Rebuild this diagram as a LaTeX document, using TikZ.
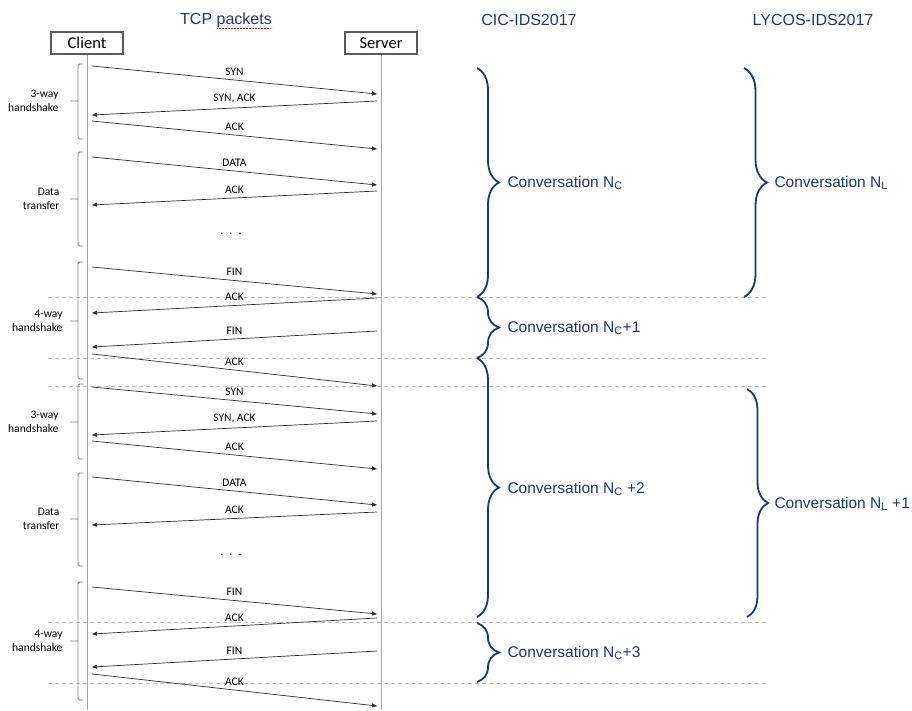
\documentclass[tikz,border=0pt]{standalone}
\usepackage{fontspec}
\setsansfont{Liberation Sans}
\newfontfamily\calibri{Carlito}
\usetikzlibrary{arrows.meta,decorations.pathreplacing}

\definecolor{navy}{RGB}{31,56,100}
\definecolor{linegray}{RGB}{166,166,166}
\definecolor{dashgray}{RGB}{191,191,191}
\definecolor{boxgray}{RGB}{89,89,89}
\definecolor{msggray}{RGB}{45,45,45}

\begin{document}
\begin{tikzpicture}[x=1pt, y=-1pt, font=\sffamily,
    host/.style={draw=boxgray, line width=1.1pt, minimum width=72pt, minimum height=22pt,
      inner sep=0pt, font=\calibri\fontsize{16.5}{18}\selectfont},
    life/.style={draw=linegray, line width=0.9pt},
    msg/.style={draw=msggray, line width=0.7pt, -{Triangle[length=5pt,width=4pt]}},
    lbl/.style={midway, above=1pt, font=\calibri\fontsize{11.5}{13}\selectfont},
    grp/.style={anchor=east, align=right, font=\calibri\fontsize{11.5}{13.5}\selectfont},
    bkt/.style={draw=gray, line width=0.8pt, rounded corners=1.5pt},
    sep/.style={draw=dashgray, line width=0.8pt, dash pattern=on 4pt off 3pt},
    conv/.style={draw=navy, line width=1.8pt, decorate, decoration={brace, amplitude=#1}},
    conv/.default=22pt,
    clab/.style={anchor=west, text=navy, font=\sffamily\fontsize{15.5}{18}\selectfont},
    head/.style={text=navy, font=\sffamily\fontsize{16}{18}\selectfont}]
  \useasboundingbox (0,0) rectangle (912,711);

  % Headers
  \node[head] (tcp) at (226,20) {TCP packets};
  \node[head] (cic) at (529,20) {CIC-IDS2017};
  \node[head] (lycos) at (813,20) {LYCOS-IDS2017};
  \draw[red, densely dotted, line width=0.5pt] (217,28) -- (271,28);

  % Hosts and lifelines
  \node[host] (client) at (87,43) {Client};
  \node[host] (server) at (381,43) {Server};
  \draw[life] (client.south) -- ++(0,655);
  \draw[life] (server.south) -- ++(0,655);
  \coordinate (cl) at (92,0);
  \coordinate (sv) at (377,0);

  % Conversation borders
  \draw[sep] (48,297) -- (769,297);
  \draw[sep] (48,358) -- (769,358);
  \draw[sep] (48,386) -- (769,386);
  \draw[sep] (48,622) -- (769,622);
  \draw[sep] (48,683) -- (769,683);

  % Packets, first connection
  \draw[msg] (cl |- 0,66) -- (sv |- 0,94) node[lbl] {SYN};
  \draw[msg] (sv |- 0,101) -- (cl |- 0,115) node[lbl] {SYN, ACK};
  \draw[msg] (cl |- 0,121) -- (sv |- 0,149) node[lbl] {ACK};
  \draw[msg] (cl |- 0,157) -- (sv |- 0,185) node[lbl] {DATA};
  \draw[msg] (sv |- 0,191) -- (cl |- 0,205) node[lbl] {ACK};
  \node[anchor=base, font=\calibri\fontsize{12}{14}\selectfont] (more1) at (231,235)
    {.\hspace{6pt}.\hspace{6pt}.};
  \draw[msg] (cl |- 0,267) -- (sv |- 0,294) node[lbl] {FIN};
  \draw[msg] (sv |- 0,298) -- (cl |- 0,313) node[lbl] {ACK};
  \draw[msg] (sv |- 0,331) -- (cl |- 0,347) node[lbl] {FIN};
  \draw[msg] (cl |- 0,354) -- (sv |- 0,386) node[lbl] {ACK};

  % Packets, second connection
  \draw[msg] (cl |- 0,387) -- (sv |- 0,414) node[lbl] {SYN};
  \draw[msg] (sv |- 0,421) -- (cl |- 0,435) node[lbl] {SYN, ACK};
  \draw[msg] (cl |- 0,441) -- (sv |- 0,469) node[lbl] {ACK};
  \draw[msg] (cl |- 0,477) -- (sv |- 0,505) node[lbl] {DATA};
  \draw[msg] (sv |- 0,512) -- (cl |- 0,525) node[lbl] {ACK};
  \node[anchor=base, font=\calibri\fontsize{12}{14}\selectfont] (more2) at (231,555)
    {.\hspace{6pt}.\hspace{6pt}.};
  \draw[msg] (cl |- 0,587) -- (sv |- 0,614) node[lbl] {FIN};
  \draw[msg] (sv |- 0,618) -- (cl |- 0,634) node[lbl] {ACK};
  \draw[msg] (sv |- 0,651) -- (cl |- 0,667) node[lbl] {FIN};
  \draw[msg] (cl |- 0,674) -- (sv |- 0,706) node[lbl] {ACK};

  % Phases
  \node[grp] (hs1) at (62,101) {3-way\\handshake};
  \draw[bkt] (83,64) -- (78,64) -- (78,139) -- (83,139) (78,101) -- (70,101);
  \node[grp] (dt1) at (63,199) {Data\\transfer};
  \draw[bkt] (83,152) -- (78,152) -- (78,246) -- (83,246) (78,199) -- (70,199);
  \node[grp] (fw1) at (66,321) {4-way\\handshake};
  \draw[bkt] (83,262) -- (78,262) -- (78,379) -- (83,379) (78,321) -- (70,321);
  \node[grp] (hs2) at (62,422) {3-way\\handshake};
  \draw[bkt] (83,384) -- (78,384) -- (78,459) -- (83,459) (78,422) -- (70,422);
  \node[grp] (dt2) at (63,519) {Data\\transfer};
  \draw[bkt] (83,473) -- (78,473) -- (78,566) -- (83,566) (78,519) -- (70,519);
  \node[grp] (fw2) at (66,641) {4-way\\handshake};
  \draw[bkt] (83,582) -- (78,582) -- (78,700) -- (83,700) (78,641) -- (70,641);

  % CIC-IDS2017 conversations
  \draw[conv] (477,68) -- (477,297);
  \node[clab] (nc0) at (504,183) {Conversation N\textsubscript{C}};
  \draw[conv] (477,297) -- (477,358);
  \node[clab] (nc1) at (504,328) {Conversation N\textsubscript{C}+1};
  \draw[conv] (477,358) -- (477,617);
  \node[clab] (nc2) at (504,489) {Conversation N\textsubscript{C} +2};
  \draw[conv] (477,623) -- (477,682);
  \node[clab] (nc3) at (504,653) {Conversation N\textsubscript{C}+3};

  % LYCOS-IDS2017 conversations
  \draw[conv=23pt] (744,68) -- (744,297);
  \node[clab] (nl0) at (771,183) {Conversation N\textsubscript{L}};
  \draw[conv=21pt] (747,389) -- (747,617);
  \node[clab] (nl1) at (771,504) {Conversation N\textsubscript{L} +1};

\end{tikzpicture}
\end{document}
